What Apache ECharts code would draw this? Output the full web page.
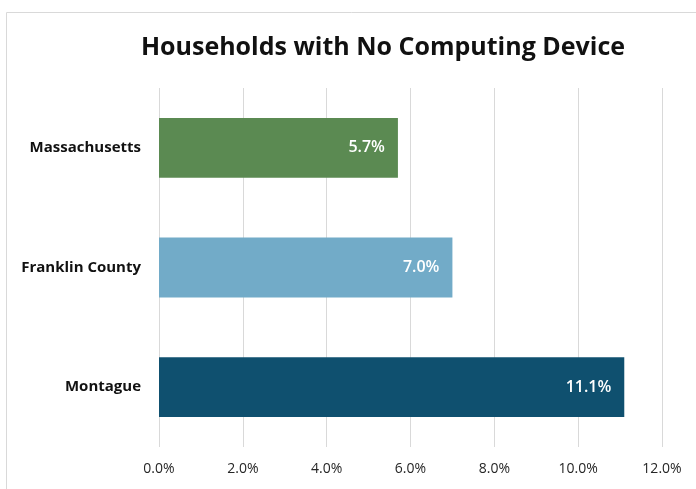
<!DOCTYPE html>
<html><head><meta charset="utf-8">
<script src="https://cdn.jsdelivr.net/npm/echarts@6/dist/echarts.min.js"></script>
<style>html,body{margin:0;padding:0;background:#fff}#c{width:696px;height:489px}</style>
</head><body><div id="c"></div>
<script>
const categories = ["Massachusetts", "Franklin County", "Montague"];
const values = [5.7, 7.0, 11.1];
const colors = ["#5B8A52", "#72ABC8", "#0F506F"];
const xTicks = [0, 2, 4, 6, 8, 10, 12];
const titleText = "Households with No Computing Device";

const chart = echarts.init(document.getElementById('c'));
const FONT = "'Open Sans', 'Noto Sans', sans-serif";
chart.setOption({
  animation: false,
  graphic: [{
    type: 'rect', shape: {x: 6.5, y: 12.5, width: 720, height: 520},
    style: {fill: 'none', stroke: '#D9D9D9', lineWidth: 1}, silent: true
  }],
  title: {
    text: titleText, left: 383, top: 30, textAlign: 'center',
    textStyle: {fontFamily: FONT, fontSize: 25, fontWeight: 'bold', color: '#111'}
  },
  grid: {left: 159, right: 34, top: 88, bottom: 42, containLabel: false},
  xAxis: {
    type: 'value', min: xTicks[0], max: xTicks[xTicks.length - 1], interval: 2,
    axisLine: {show: false}, axisTick: {show: false},
    splitLine: {show: true, lineStyle: {color: '#D9D9D9', width: 1}},
    axisLabel: {margin: 15, fontFamily: FONT, fontSize: 14, color: '#262626',
      formatter: v => v.toFixed(1) + '%'}
  },
  yAxis: {
    type: 'category', data: categories, inverse: true,
    axisLine: {show: false}, axisTick: {show: false},
    axisLabel: {margin: 18, fontFamily: FONT, fontSize: 15, fontWeight: 'bold', color: '#111'}
  },
  series: [{
    type: 'bar', barCategoryGap: '50%',
    data: values.map((v, i) => ({value: v, itemStyle: {color: colors[i]}})),
    label: {show: true, position: 'insideRight', distance: 13,
      fontFamily: FONT, fontSize: 16, fontWeight: 600, color: '#fff',
      formatter: p => p.value.toFixed(1) + '%'}
  }]
});
chart.setOption({title: {left: 378}});
</script></body></html>
